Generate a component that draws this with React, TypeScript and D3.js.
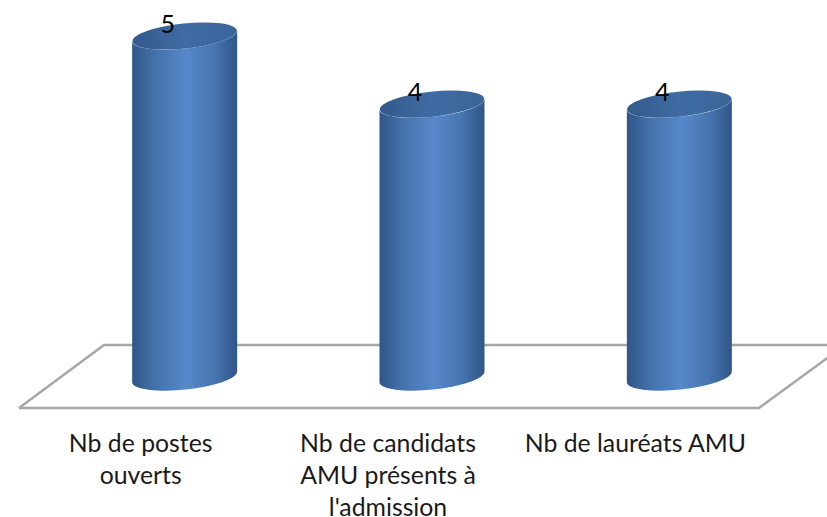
import * as d3 from "d3";

const categories = ["Nb de postes ouverts", "Nb de candidats AMU présents à l'admission", "Nb de lauréats AMU"];
const categoryLines = [
  ["Nb de postes", "ouverts"],
  ["Nb de candidats", "AMU présents à", "l'admission"],
  ["Nb de lauréats AMU"],
];
const values = [5, 4, 4];

const width = 827;
const height = 517;

// tilted cylinder, the ends are ellipses rotated a bit anticlockwise
const rx = 52.5;
const ry = 12.5;
const tilt = -6;
const dyEnd = rx * Math.sin((-tilt * Math.PI) / 180);

const App = () => {
  const x = d3.scaleBand().domain(categories).range([61, 803]).paddingInner(0.58).paddingOuter(0.29);
  const y = d3.scaleLinear().domain([0, 5]).range([377, 36]);
  const cx = (c: string) => (x(c) as number) + x.bandwidth() / 2;

  const floor = d3.line()([
    [19, 408],
    [759, 408],
    [845, 345],
    [104, 345],
    [19, 408],
  ]) as string;

  const body = (c: string, v: number) => {
    const m = cx(c);
    const l = m - rx;
    const r = m + rx;
    const path = d3.path();
    path.moveTo(l, y(v) + dyEnd);
    path.lineTo(l, y(0) + dyEnd);
    return (
      path.toString() +
      `A${rx},${ry} ${tilt} 0 0 ${r},${y(0) - dyEnd}` +
      `L${r},${y(v) - dyEnd}` +
      `A${rx},${ry} ${tilt} 0 1 ${l},${y(v) + dyEnd}Z`
    );
  };

  return (
    <svg
      width={width}
      height={height}
      viewBox={`0 0 ${width} ${height}`}
      style={{ position: "absolute", left: 0, top: 0, background: "#fff" }}
    >
      <defs>
        <linearGradient id="cyl" x1="0" x2="1" y1="0" y2="0">
          <stop offset="0" stopColor="#2f5688" />
          <stop offset="0.22" stopColor="#4472ab" />
          <stop offset="0.52" stopColor="#5688cb" />
          <stop offset="0.78" stopColor="#4775af" />
          <stop offset="1" stopColor="#2f5688" />
        </linearGradient>
        <linearGradient id="cylTop" x1="0" x2="1" y1="0" y2="0">
          <stop offset="0" stopColor="#33598c" />
          <stop offset="0.5" stopColor="#3f6ca3" />
          <stop offset="1" stopColor="#3a659a" />
        </linearGradient>
        <filter id="soft" x="-5%" y="-5%" width="110%" height="110%">
          <feGaussianBlur stdDeviation="0.6" />
        </filter>
      </defs>
      <path d={floor} fill="none" stroke="#a6a6a6" strokeWidth={2.4} />
      {categories.map((c, i) => (
        <g key={c}>
          <g filter="url(#soft)">
            <path d={body(c, values[i])} fill="url(#cyl)" />
            <ellipse
              cx={cx(c)}
              cy={y(values[i])}
              rx={rx}
              ry={ry}
              transform={`rotate(${tilt} ${cx(c)} ${y(values[i])})`}
              fill="url(#cylTop)"
            />
          </g>
          <text
            x={cx(c) - 17}
            y={y(values[i]) - 3}
            textAnchor="middle"
            fontFamily="Lato, 'Open Sans', sans-serif"
            fontSize={25}
            fill="#000"
          >
            {values[i]}
          </text>
          {categoryLines[i].map((line, j) => (
            <text
              key={line}
              x={cx(c) - 44}
              y={451.5 + j * 32}
              textAnchor="middle"
              fontFamily="Lato, 'Open Sans', sans-serif"
              fontSize={24.8}
              fill="#1a1a1a"
            >
              {line}
            </text>
          ))}
        </g>
      ))}
    </svg>
  );
};

export default App;
